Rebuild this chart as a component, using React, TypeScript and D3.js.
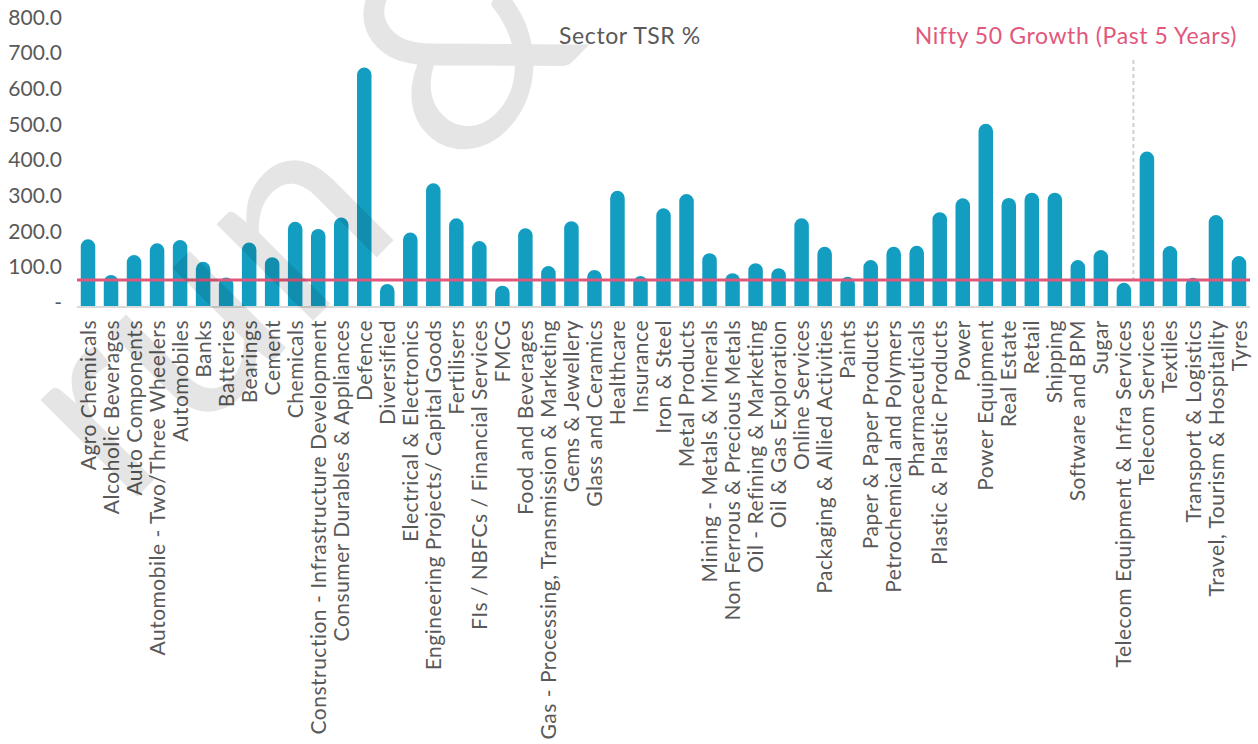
import React from "react";
import * as d3 from "d3";

const categories: string[] = [
  "Agro Chemicals", "Alcoholic Beverages", "Auto Components", "Automobile - Two/Three Wheelers",
  "Automobiles", "Banks", "Batteries", "Bearings", "Cement", "Chemicals",
  "Construction - Infrastructure Development", "Consumer Durables & Appliances", "Defence",
  "Diversified", "Electrical & Electronics", "Engineering Projects/ Capital Goods", "Fertilisers",
  "FIs / NBFCs / Financial Services", "FMCG", "Food and Beverages",
  "Gas - Processing, Transmission & Marketing", "Gems & Jewellery", "Glass and Ceramics",
  "Healthcare", "Insurance", "Iron & Steel", "Metal Products", "Mining - Metals & Minerals",
  "Non Ferrous & Precious  Metals", "Oil - Refining & Marketing", "Oil & Gas Exploration",
  "Online Services", "Packaging & Allied Activities", "Paints", "Paper & Paper Products",
  "Petrochemical and Polymers", "Pharmaceuticals", "Plastic & Plastic Products", "Power",
  "Power Equipment", "Real Estate", "Retail", "Shipping", "Software and BPM", "Sugar",
  "Telecom Equipment & Infra Services", "Telecom Services", "Textiles", "Transport & Logistics",
  "Travel, Tourism & Hospitality", "Tyres",
];

const sectorTSR: number[] = [
  187, 87, 143, 176, 185, 124, 80, 178, 137, 236,
  216, 248, 669, 62, 206, 344, 246, 182, 57, 218,
  112, 238, 101, 323, 84, 274, 314, 148, 92, 120,
  106, 246, 166, 82, 129, 166, 169, 263, 302, 511,
  303, 318, 318, 129, 157, 65, 433, 168, 79, 255,
  140,
];

const niftyGrowth = 73;
const yTicks: number[] = [0, 100, 200, 300, 400, 500, 600, 700, 800];
const markerAfter = "Telecom Equipment & Infra Services";

const W = 1258;
const H = 744;
const FONT = "Lato, 'Noto Sans', sans-serif";

export default function App() {
  const x = d3
    .scaleBand<string>()
    .domain(categories)
    .range([76.5, 1250.5])
    .paddingInner(0.37)
    .paddingOuter(0.185);
  const y = d3.scaleLinear().domain([0, 800]).range([306, 20.8]);
  const bw = x.bandwidth();
  const r = bw / 2;

  const barPath = (c: string, v: number) => {
    const x0 = x(c)!;
    const y0 = y(0);
    const yt = y(v);
    const p = d3.path();
    p.moveTo(x0, y0);
    p.lineTo(x0, yt + r);
    p.arc(x0 + r, yt + r, r, Math.PI, 0);
    p.lineTo(x0 + bw, y0);
    p.closePath();
    return p.toString();
  };

  const mIdx = categories.indexOf(markerAfter);
  const markerX = x(categories[mIdx])! + bw / 2 + x.step() / 2 - 2;

  return (
    <svg width={W} height={H} style={{ position: "absolute", left: 0, top: 0, background: "#fff" }}>
      <rect x={0} y={0} width={W} height={H} fill="#fff" />
      {/* y tick labels */}
      {yTicks.map((t) => (
        <text
          key={t}
          x={62}
          y={y(t) - 3.5}
          dy="0.35em"
          textAnchor="end"
          fontFamily={FONT}
          fontSize={21}
          fill="#595959"
        >
          {t === 0 ? "-" : d3.format(".1f")(t)}
        </text>
      ))}
      {/* baseline */}
      <line x1={77} x2={1250} y1={y(0) + 1} y2={y(0) + 1} stroke="#d9d9d9" strokeWidth={2} />
      {/* bars */}
      {categories.map((c, i) => (
        <path key={c} d={barPath(c, sectorTSR[i])} fill="#139EC1" />
      ))}
      {/* marker line */}
      <line
        x1={markerX}
        x2={markerX}
        y1={60}
        y2={y(niftyGrowth) + 2}
        stroke="#cfcfcf"
        strokeWidth={2}
        strokeDasharray="4 3"
      />
      {/* nifty line */}
      <line
        x1={77}
        x2={1250}
        y1={y(niftyGrowth)}
        y2={y(niftyGrowth)}
        stroke="#E0587C"
        strokeWidth={3}
      />
      {/* category labels */}
      {categories.map((c) => (
        <text
          key={c}
          transform={`translate(${x(c)! + bw / 2},320) rotate(-90)`}
          dy="0.36em"
          textAnchor="end"
          fontFamily={FONT}
          fontSize={21}
          letterSpacing={0.5}
          fill="#595959"
        >
          {c}
        </text>
      ))}
      {/* titles */}
      <text x={630} y={36} dy="0.35em" textAnchor="middle" fontFamily={FONT} fontSize={23} letterSpacing={0.6} fill="#595959">
        Sector TSR %
      </text>
      <text x={1237} y={36} dy="0.35em" textAnchor="end" fontFamily={FONT} fontSize={23} letterSpacing={0.6} fill="#E0587C">
        Nifty 50 Growth (Past 5 Years)
      </text>
      {/* watermark */}
      <text
        transform="translate(591,43) rotate(-45)"
        textAnchor="end"
        fontFamily={FONT}
        fontWeight={400}
        fontSize={270}
        fill="#000"
        fillOpacity={0.1}
      >
        run &amp;
      </text>
    </svg>
  );
}
